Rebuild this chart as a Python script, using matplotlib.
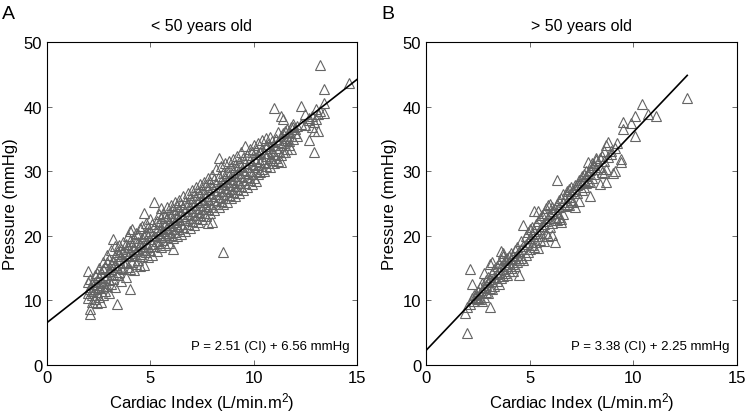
import matplotlib
matplotlib.use("Agg")
import matplotlib.pyplot as plt

plt.rcParams["font.family"] = ["Liberation Sans", "DejaVu Sans"]
plt.rcParams["mathtext.fontset"] = "custom"
plt.rcParams["mathtext.rm"] = "Liberation Sans"
plt.rcParams["mathtext.default"] = "regular"

# < 50 years old: cardiac index column -> pressures
ci_young_cols = [2.0, 2.1, 2.2, 2.3, 2.4, 2.5, 2.6, 2.7, 2.8, 2.9,
                 3.0, 3.1, 3.2, 3.3, 3.4, 3.5, 3.6, 3.7, 3.8, 3.9,
                 4.0, 4.1, 4.2, 4.3, 4.4, 4.5, 4.6, 4.7, 4.8, 4.9,
                 5.0, 5.1, 5.2, 5.3, 5.4, 5.5, 5.6, 5.7, 5.8, 5.9,
                 6.0, 6.1, 6.2, 6.3, 6.4, 6.5, 6.6, 6.7, 6.8, 6.9,
                 7.0, 7.1, 7.2, 7.3, 7.4, 7.5, 7.6, 7.7, 7.8, 7.9,
                 8.0, 8.1, 8.2, 8.3, 8.4, 8.5, 8.6, 8.7, 8.8, 8.9,
                 9.0, 9.1, 9.2, 9.3, 9.4, 9.5, 9.6, 9.7, 9.8, 9.9,
                 10.0, 10.1, 10.2, 10.3, 10.4, 10.5, 10.6, 10.7, 10.8, 10.9,
                 11.0, 11.1, 11.2, 11.3, 11.4, 11.5, 11.6, 11.7, 11.8, 11.9,
                 12.0, 12.1, 12.3, 12.5, 12.7, 12.8, 12.9, 13.0, 13.1, 13.2,
                 13.4, 14.6]
p_young_cols = [
    [11.2, 12.8, 14.5, 10.4], [7.9, 8.6, 11.8, 13.3, 12.1], [9.8, 10.9, 12.6, 11.4],
    [10.2, 12.9, 13.9, 11.7], [9.6, 11.3, 12.4, 14.2], [10.5, 12.0, 13.6, 15.0],
    [9.8, 11.9, 13.0, 14.4], [10.8, 12.7, 14.8, 16.0], [11.5, 13.4, 15.2, 12.2],
    [12.3, 14.0, 15.9, 17.0],
    [11.2, 13.1, 14.6, 16.4], [12.6, 14.9, 17.8, 15.6], [13.3, 14.1, 16.0, 19.5],
    [12.0, 15.5, 16.9, 18.4], [9.4, 13.9, 15.1, 17.5], [14.4, 16.3, 17.2, 18.6],
    [13.0, 15.0, 16.8, 17.9], [14.9, 16.0, 17.6, 19.0], [13.6, 15.8, 17.3, 18.8],
    [15.2, 16.9, 18.2, 19.9],
    [11.8, 14.9, 17.4, 19.2, 20.8], [15.9, 17.0, 18.6, 21.0], [14.7, 16.8, 18.0, 19.6],
    [15.7, 17.6, 19.1, 20.5], [16.2, 17.9, 19.0, 20.3], [15.3, 17.2, 18.7, 21.2],
    [16.8, 18.4, 19.7, 21.5], [15.5, 17.8, 20.0, 23.6], [17.5, 18.9, 20.4, 22.0],
    [16.7, 18.3, 19.9, 21.4],
    [17.8, 19.5, 20.7, 22.6], [17.1, 18.8, 20.2, 21.9], [18.4, 19.9, 21.3, 25.2],
    [17.6, 19.2, 20.9, 22.3], [18.9, 20.4, 21.8, 23.4], [18.2, 19.8, 21.1, 22.8, 24.3],
    [19.4, 20.7, 22.2, 23.6], [18.5, 20.1, 21.6, 23.1], [19.8, 21.2, 22.7, 24.5],
    [18.9, 20.5, 22.0, 23.5],
    [20.2, 21.7, 23.0, 24.8], [17.9, 19.6, 21.1, 22.5, 24.1], [20.6, 22.1, 23.6, 25.2],
    [19.9, 21.5, 22.9, 24.6], [21.0, 22.6, 24.0, 25.6], [20.3, 21.9, 23.4, 25.0],
    [21.4, 23.0, 24.4, 26.1], [20.8, 22.4, 23.8, 25.3], [21.9, 23.4, 24.9, 26.6],
    [21.2, 22.8, 24.3, 25.8],
    [22.3, 23.9, 25.4, 27.1], [21.7, 23.2, 24.7, 26.3], [22.8, 24.3, 25.8, 27.6],
    [22.1, 23.7, 25.2, 26.8], [23.2, 24.8, 26.3, 28.0], [22.6, 24.1, 25.6, 27.3],
    [23.6, 25.2, 26.7, 28.4], [23.0, 24.6, 26.1, 27.8], [22.0, 24.1, 25.7, 27.2, 28.9],
    [23.5, 25.0, 26.6, 28.3],
    [22.1, 24.5, 26.1, 27.6, 29.4], [24.0, 25.5, 27.1, 28.8], [25.0, 26.5, 28.0, 30.4],
    [24.4, 26.0, 27.5, 29.2, 32.1], [25.4, 26.9, 28.5, 30.8], [17.5, 24.9, 26.4, 28.0, 29.7],
    [25.9, 27.4, 28.9, 31.2], [25.3, 26.9, 28.4, 30.1], [26.3, 27.8, 29.4, 31.6],
    [25.8, 27.3, 28.8, 30.6],
    [26.8, 28.3, 29.9, 31.9], [26.2, 27.7, 29.3, 31.0], [27.2, 28.7, 30.3, 32.4],
    [26.7, 28.2, 29.8, 31.5], [27.7, 29.2, 30.8, 32.9], [27.1, 28.7, 30.2, 32.0],
    [28.1, 29.7, 31.2, 33.9], [27.6, 29.1, 30.7, 32.5], [28.6, 30.1, 31.7, 33.4],
    [28.0, 29.6, 31.1, 32.9],
    [29.0, 30.6, 32.1, 34.1], [28.5, 30.0, 31.6, 33.3], [29.5, 31.0, 32.6, 34.3],
    [29.9, 31.5, 33.0], [30.4, 31.9, 33.5, 34.8], [30.0, 31.4, 32.8],
    [30.8, 32.4, 33.9, 35.1], [31.3, 32.8, 34.2], [30.6, 32.1, 33.6, 35.3],
    [31.7, 33.2, 34.7],
    [31.2, 32.6, 34.1, 39.8], [32.1, 33.6, 35.0], [31.6, 33.1, 34.5, 36.0],
    [31.5, 32.5, 34.0, 35.5, 38.5], [33.0, 34.4, 35.9, 38.1], [32.9, 34.8, 36.2],
    [33.4, 35.2, 36.6], [34.0, 34.7, 36.0], [33.4, 35.5, 36.8], [35.0, 36.8, 37.3],
    [35.9, 36.5], [35.5, 37.0], [40.1, 37.3], [38.8, 37.1], [34.9, 38.3, 37.9],
    [36.9, 38.6], [33.0, 37.6, 36.2], [39.6, 38.1], [36.3, 38.8], [46.5, 39.3],
    [42.7, 40.6, 39.0], [43.6],
]

# > 50 years old
ci_old_cols = [1.9, 2.0, 2.1, 2.2, 2.3, 2.4, 2.5, 2.6, 2.7, 2.8, 2.9,
               3.0, 3.1, 3.2, 3.3, 3.4, 3.5, 3.6, 3.7, 3.8, 3.9,
               4.0, 4.1, 4.2, 4.3, 4.4, 4.5, 4.6, 4.7, 4.8, 4.9,
               5.0, 5.1, 5.2, 5.3, 5.4, 5.5, 5.6, 5.7, 5.8, 5.9,
               6.0, 6.1, 6.2, 6.3, 6.4, 6.5, 6.6, 6.7, 6.8, 6.9,
               7.0, 7.1, 7.2, 7.3, 7.4, 7.5, 7.6, 7.7, 7.8, 7.9,
               8.0, 8.1, 8.2, 8.4, 8.5, 8.6, 8.7, 8.8, 8.9,
               9.0, 9.1, 9.2, 9.4, 9.5, 9.9, 10.1, 10.4, 10.7, 11.1, 12.6]
p_old_cols = [
    [8.1], [5.0, 9.0], [14.8, 9.4], [12.5, 10.3], [9.9, 10.8], [10.6, 11.0],
    [10.2, 11.5, 10.4], [10.2, 11.2, 12.1], [9.9, 11.6, 12.7], [10.6, 12.0, 14.3],
    [11.3, 12.4, 13.2],
    [11.2, 12.8, 13.6], [8.9, 11.9, 13.3, 15.7], [11.8, 13.0, 14.2, 15.9],
    [12.3, 13.6, 14.9], [13.0, 14.1, 15.4], [12.6, 14.4, 15.8],
    [13.4, 15.3, 16.4, 17.7], [13.7, 14.9, 16.8, 17.4], [14.2, 15.6, 16.2],
    [13.9, 15.3, 16.6],
    [14.6, 15.9, 16.9], [15.0, 16.4, 17.3], [14.5, 15.7, 16.8], [15.4, 16.5, 17.8],
    [15.9, 17.1, 18.3], [14.0, 16.2, 17.6], [16.6, 17.9, 19.2], [16.3, 18.4, 21.6],
    [17.0, 18.8, 20.0], [17.5, 19.1, 20.6],
    [18.0, 19.6, 21.0], [18.6, 20.3, 21.4], [18.2, 20.7, 23.8], [19.0, 20.0, 21.8],
    [18.1, 20.5, 22.3, 23.9], [19.4, 21.0, 22.7], [19.9, 21.5, 23.2],
    [19.2, 21.9, 23.6], [20.5, 22.3, 24.3], [19.9, 22.7, 24.7],
    [21.3, 23.4, 24.9], [20.2, 22.0, 23.8, 24.5], [19.1, 22.8, 24.1],
    [28.7, 22.4, 23.6, 25.0], [22.9, 24.4, 25.6], [22.6, 22.2, 25.9],
    [23.3, 25.3, 26.4], [24.6, 25.9], [25.0, 26.5, 27.0], [24.8, 26.0, 27.2],
    [25.6, 26.6, 27.6], [25.2, 27.0], [24.5, 27.3, 27.9], [26.6, 27.8],
    [25.4, 28.0, 28.6], [27.1, 28.4, 29.2], [27.6, 28.7, 29.6], [28.1, 29.3, 30.0],
    [28.5, 29.8, 31.5], [26.2, 28.4, 30.2],
    [29.0, 30.6, 31.2], [29.6, 31.0], [30.4, 31.8, 32.1], [28.0, 30.7, 32.0],
    [29.9, 32.4], [29.8, 31.6, 33.2], [28.3, 30.3, 34.0], [34.5, 32.2], [33.2, 32.6],
    [29.8], [30.1, 33.6], [34.3], [31.9, 31.4], [37.6, 36.5], [37.4], [38.6, 35.4],
    [40.4], [38.8], [38.6], [41.4],
]

# regression lines given on the panels
slope_young, icpt_young = 2.51, 6.56
slope_old, icpt_old = 3.38, 2.25
fit_x_young = [0, 15]
fit_x_old = [0, 12.6]

panels = [
    ("A", "< 50 years old", ci_young_cols, p_young_cols, slope_young, icpt_young, fit_x_young),
    ("B", "> 50 years old", ci_old_cols, p_old_cols, slope_old, icpt_old, fit_x_old),
]

fig = plt.figure(figsize=(7.47, 4.14), dpi=100)
positions = [[0.0629, 0.116, 0.415, 0.780], [0.5703, 0.116, 0.4163, 0.780]]

for pos, (letter, title, xs, ys, m, b, fx) in zip(positions, panels):
    ax = fig.add_axes(pos)
    px, py = [], []
    for x, col in zip(xs, ys):
        for y in col:
            px.append(x)
            py.append(y)
    ax.plot(px, py, linestyle="none", marker="^", markersize=6.8,
            markerfacecolor="none", markeredgecolor="#646464", markeredgewidth=0.8)
    ax.plot(fx, [m * v + b for v in fx], color="black", lw=1.2)
    ax.set_xlim(0, 15)
    ax.set_ylim(0, 50)
    ax.set_xticks([0, 5, 10, 15])
    ax.set_yticks([0, 10, 20, 30, 40, 50])
    ax.tick_params(direction="in", top=True, right=True, labelsize=12,
                   length=3.5, width=0.6, color="#555555")
    for s in ax.spines.values():
        s.set_linewidth(0.8)
    ax.set_xlabel("Cardiac Index (L/min.m$^{2}$)", fontsize=12, labelpad=4)
    ax.set_ylabel("Pressure (mmHg)", fontsize=12, labelpad=4)
    ax.set_title(title, fontsize=11.5, pad=9)
    ax.text(0.975, 0.04, "P = %.2f (CI) + %.2f mmHg" % (m, b), transform=ax.transAxes,
            ha="right", va="bottom", fontsize=9.5)
    fig.text(pos[0] - 0.06, 0.985, letter, fontsize=14, ha="left", va="top")

fig.savefig("out.png", dpi=100)
